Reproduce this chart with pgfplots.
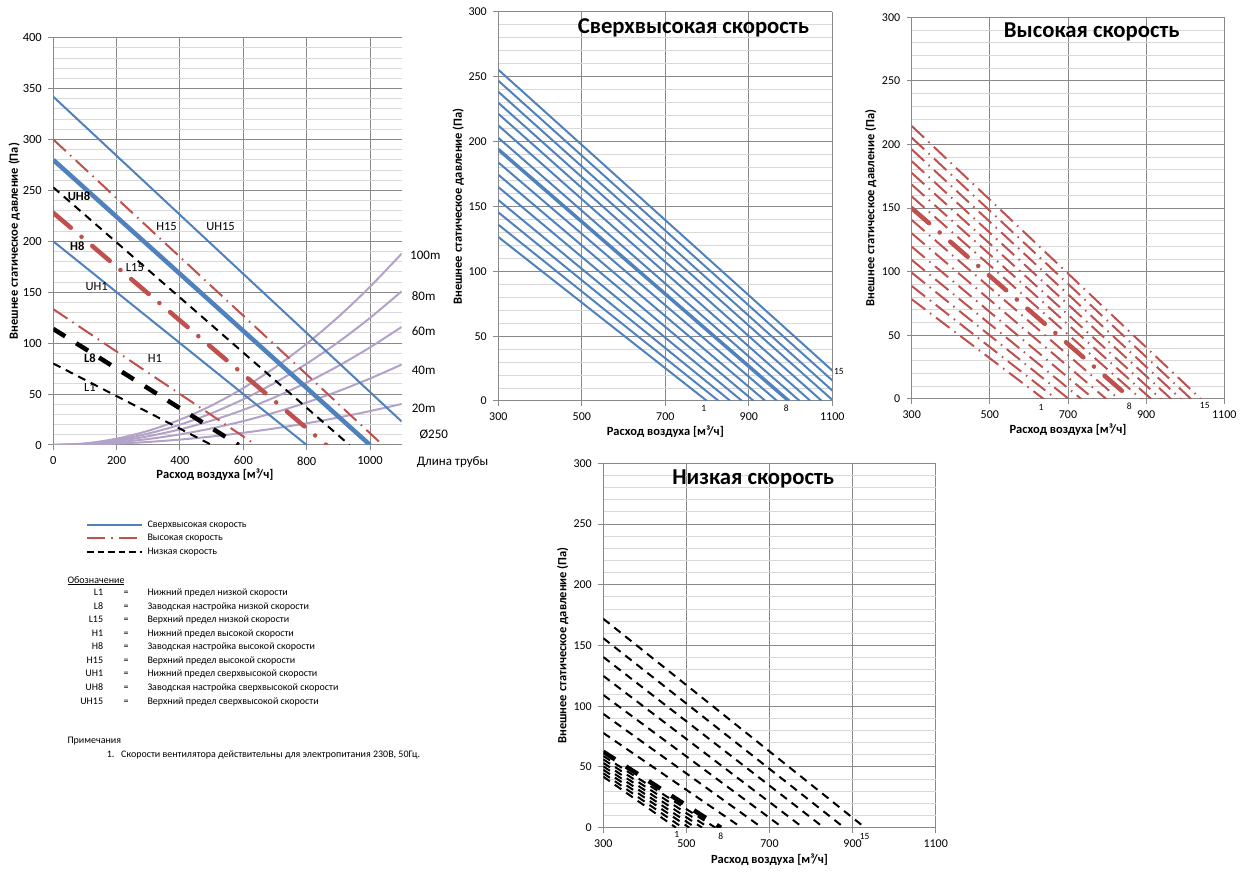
\documentclass[border=0pt]{standalone}
\usepackage{fontspec}
\setmainfont{Carlito}
\usepackage{pgfplots}
\pgfplotsset{compat=1.18}
\definecolor{xblue}{HTML}{4F81BD}
\definecolor{xred}{HTML}{C0504D}
\definecolor{xpurple}{HTML}{B3A2C7}
\definecolor{majgrid}{HTML}{898989}
\definecolor{mingrid}{HTML}{D9D9D9}
\newcommand{\fs}[1]{\fontsize{#1}{#1}\selectfont}
\tikzset{
 uhthin/.style={xblue, line width=2pt},
 uhthick/.style={xblue, line width=4.5pt},
 uhmid/.style={xblue, line width=3.5pt},
 hthin/.style={xred, line width=2pt, dash pattern=on 17pt off 6pt on 1.5pt off 6pt},
 hthick/.style={xred, line width=4.5pt, line cap=round, dash pattern=on 23pt off 14pt on 0.1pt off 14pt},
 lthin/.style={black, line width=2pt, dash pattern=on 8pt off 6pt},
 lthick/.style={black, line width=4.5pt, dash pattern=on 14pt off 13pt},
 duct/.style={xpurple, line width=2pt, smooth},
}
\pgfplotsset{
 xlbase/.style={
   scale only axis,
   axis x line*=bottom, axis y line*=left,
   axis line style={majgrid, line width=1pt, -},
   grid=both,
   major grid style={majgrid, line width=1pt},
   minor grid style={mingrid, line width=1pt},
   tick align=outside,
   major tick length=5pt, minor tick length=0pt,
   tick style={majgrid, line width=1pt},
   ymin=0, ytick distance=50, minor y tick num=4,
   /pgf/number format/assume math mode=true,
   /pgf/number format/1000 sep={},
   ticklabel style={font=\fs{12.5}, text=black},
   xticklabel style={yshift=-3pt},
   yticklabel style={xshift=-3pt},
   label style={font=\bfseries\fs{12.5}},
   clip mode=individual,
   every axis plot/.append style={no marks},
 },
 small/.style={xlbase, xmin=300, xmax=1100, xtick={300,500,700,900,1100}, ymax=300,
   ticklabel style={font=\fs{12}}},
}
\begin{document}
\begin{tikzpicture}[x=1pt,y=1pt]
\useasboundingbox (0,0) rectangle (1245,871);

% ---------------- main chart ----------------
\begin{axis}[xlbase, at={(53.3pt,426pt)}, anchor=south west, width=348.4pt, height=407.3pt,
  xmin=0, xmax=1100, xtick={0,200,400,600,800,1000}, ymax=400,
  xlabel={Расход воздуха [м³/ч]}, ylabel={Внешнее статическое давление (Па)},
  xlabel style={at={(axis description cs:0.464,-0.073)}, anchor=center},
  ylabel style={at={(axis description cs:-0.112,0.5)}, anchor=center}]
\addplot[duct] coordinates {(0,0) (100,1.55) (200,6.22) (300,13.98) (400,24.86) (500,38.84) (600,55.93) (700,76.13) (800,99.44) (900,125.85) (1000,155.37) (1100,188)};
\addplot[duct] coordinates {(0,0) (100,1.25) (200,4.99) (300,11.23) (400,19.97) (500,31.20) (600,44.93) (700,61.15) (800,79.87) (900,101.08) (1000,124.79) (1100,151)};
\addplot[duct] coordinates {(0,0) (100,0.96) (200,3.83) (300,8.63) (400,15.34) (500,23.97) (600,34.51) (700,46.98) (800,61.36) (900,77.65) (1000,95.87) (1100,116)};
\addplot[duct] coordinates {(0,0) (100,0.65) (200,2.61) (300,5.88) (400,10.45) (500,16.32) (600,23.50) (700,31.99) (800,41.79) (900,52.88) (1000,65.29) (1100,79)};
\addplot[duct] coordinates {(0,0) (100,0.33) (200,1.33) (300,3.00) (400,5.33) (500,8.33) (600,11.99) (700,16.32) (800,21.32) (900,26.98) (1000,33.31) (1100,40.3)};
\addplot[uhthin] coordinates {(0,342) (1100,23)};
\addplot[uhthick] coordinates {(0,280) (1000,0)};
\addplot[uhthin] coordinates {(0,200) (800,0)};
\addplot[hthin] coordinates {(0,300) (1040,0)};
\addplot[hthick] coordinates {(0,228) (862,0)};
\addplot[hthin] coordinates {(0,133.4) (640,0)};
\addplot[lthin] coordinates {(0,253) (935,0)};
\addplot[lthick] coordinates {(0,114) (585,0)};
\addplot[lthin] coordinates {(0,80) (500,0)};
\node[font=\bfseries\fs{12.5}] at (axis cs:81,244.5) {UH8};
\node[font=\fs{12.5}] at (axis cs:357.7,215) {H15};
\node[font=\fs{12.5}] at (axis cs:528,215) {UH15};
\node[font=\bfseries\fs{12.5}] at (axis cs:75.8,195.4) {H8};
\node[font=\fs{12.5}] at (axis cs:257.7,174) {L15};
\node[font=\fs{12.5}] at (axis cs:137,155.5) {UH1};
\node[font=\bfseries\fs{12.5}] at (axis cs:115.8,85) {L8};
\node[font=\fs{12.5}] at (axis cs:320.8,85) {H1};
\node[font=\fs{12.5}] at (axis cs:115.8,56.3) {L1};
\end{axis}

% ---------------- chart 2: ultra high ----------------
\begin{axis}[small, at={(498.3pt,470pt)}, anchor=south west, width=334pt, height=389pt,
  xlabel={Расход воздуха [м³/ч]}, ylabel={Внешнее статическое давление (Па)},
  xlabel style={at={(axis description cs:0.5,-0.08)}, anchor=center},
  ylabel style={at={(axis description cs:-0.12,0.5)}, anchor=center}]
\addplot[uhthin] coordinates {(300,126.5) (800,0)};
\addplot[uhthin] coordinates {(300,136) (828,0)};
\addplot[uhthin] coordinates {(300,145.5) (856,0)};
\addplot[uhthin] coordinates {(300,155) (884,0)};
\addplot[uhthin] coordinates {(300,165) (912,0)};
\addplot[uhthin] coordinates {(300,174.5) (940,0)};
\addplot[uhthin] coordinates {(300,184) (968,0)};
\addplot[uhmid] coordinates {(300,194) (996,0)};
\addplot[uhthin] coordinates {(300,203) (1022,0)};
\addplot[uhthin] coordinates {(300,212.5) (1048,0)};
\addplot[uhthin] coordinates {(300,221.5) (1075,0)};
\addplot[uhthin] coordinates {(300,230) (1103,0)};
\addplot[uhthin] coordinates {(300,238.5) (1128,0)};
\addplot[uhthin] coordinates {(300,247) (1155,0)};
\addplot[uhthin] coordinates {(300,255.5) (1181,0)};
\node[font=\bfseries\fs{22.7}] at (axis description cs:0.584,0.959) {Сверхвысокая скорость};
\node[font=\fs{9.5}] at (axis cs:792,-6) {1};
\node[font=\fs{9.5}] at (axis cs:990,-6) {8};
\node[font=\fs{9.5}] at (axis cs:1116,22.5) {15};
\end{axis}

% ---------------- chart 3: high ----------------
\begin{axis}[small, at={(911.7pt,472pt)}, anchor=south west, width=312.6pt, height=381.7pt,
  xlabel={Расход воздуха [м³/ч]}, ylabel={Внешнее статическое давление (Па)},
  xlabel style={at={(axis description cs:0.5,-0.079)}, anchor=center},
  ylabel style={at={(axis description cs:-0.131,0.5)}, anchor=center}]
\addplot[hthin] coordinates {(300,78.4) (638,0)};
\addplot[hthin] coordinates {(300,88.8) (670,0)};
\addplot[hthin] coordinates {(300,99.3) (702,0)};
\addplot[hthin] coordinates {(300,109.3) (734,0)};
\addplot[hthin] coordinates {(300,119.7) (766,0)};
\addplot[hthin] coordinates {(300,130.2) (798,0)};
\addplot[hthin] coordinates {(300,140.7) (830,0)};
\addplot[hthick] coordinates {(300,150) (862,0)};
\addplot[hthin] coordinates {(300,159.2) (887,0)};
\addplot[hthin] coordinates {(300,168.5) (913,0)};
\addplot[hthin] coordinates {(300,177.7) (938,0)};
\addplot[hthin] coordinates {(300,186.9) (964,0)};
\addplot[hthin] coordinates {(300,196.2) (989,0)};
\addplot[hthin] coordinates {(300,205.4) (1015,0)};
\addplot[hthin] coordinates {(300,214.6) (1040,0)};
\node[font=\bfseries\fs{22.7}] at (axis description cs:0.576,0.961) {Высокая скорость};
\node[font=\fs{9.5}] at (axis cs:631,-7) {1};
\node[font=\fs{9.5}] at (axis cs:857,-6) {8};
\node[font=\fs{9.5}] at (axis cs:1050,-5) {15};
\end{axis}

% ---------------- chart 4: low ----------------
\begin{axis}[small, at={(603.3pt,43.3pt)}, anchor=south west, width=332.4pt, height=364.4pt,
  xlabel={Расход воздуха [м³/ч]}, ylabel={Внешнее статическое давление (Па)},
  xlabel style={at={(axis description cs:0.5,-0.089)}, anchor=center},
  ylabel style={at={(axis description cs:-0.122,0.5)}, anchor=center}]
\addplot[lthin] coordinates {(300,42) (475,0)};
\addplot[lthin] coordinates {(300,44.8) (491,0)};
\addplot[lthin] coordinates {(300,47.7) (507,0)};
\addplot[lthin] coordinates {(300,50.5) (522,0)};
\addplot[lthin] coordinates {(300,53.3) (538,0)};
\addplot[lthin] coordinates {(300,56.2) (554,0)};
\addplot[lthin] coordinates {(300,59) (570,0)};
\addplot[lthick] coordinates {(300,62.5) (583,0)};
\addplot[lthin] coordinates {(300,78) (633,0)};
\addplot[lthin] coordinates {(300,93.7) (682,0)};
\addplot[lthin] coordinates {(300,109.3) (732,0)};
\addplot[lthin] coordinates {(300,125) (781,0)};
\addplot[lthin] coordinates {(300,140.5) (831,0)};
\addplot[lthin] coordinates {(300,156) (880,0)};
\addplot[lthin] coordinates {(300,172) (930,0)};
\node[font=\bfseries\fs{22.7}] at (axis description cs:0.451,0.956) {Низкая скорость};
\node[font=\fs{9.5}] at (axis cs:477,-5.4) {1};
\node[font=\fs{9.5}] at (axis cs:583,-6.8) {8};
\node[font=\fs{9.5}] at (axis cs:929,-7) {15};
\end{axis}

% ---------------- right labels of main chart ----------------
\node[font=\fs{13}, anchor=mid west] at (406.7,613.7) {100m};
\node[font=\fs{13}, anchor=mid west] at (408.3,573.3) {80m};
\node[font=\fs{13}, anchor=mid west] at (408.3,537.7) {60m};
\node[font=\fs{13}, anchor=mid west] at (408.3,498.7) {40m};
\node[font=\fs{13}, anchor=mid west] at (408.3,461) {20m};
\node[font=\fs{13}, anchor=mid west] at (416,435.3) {Ø250};
\node[font=\fs{13}, anchor=mid west] at (413.3,407.7) {Длина трубы};

% ---------------- legend and notes ----------------
\draw[xblue, line width=1.8pt] (87.3,346) -- (141.7,346);
\draw[xred, line width=1.8pt, dash pattern=on 18pt off 6pt on 1.5pt off 6pt] (87.3,332.7) -- (141.7,332.7);
\draw[black, line width=1.8pt, dash pattern=on 6.5pt off 4pt] (87.3,319.3) -- (141.7,319.3);
\begin{scope}[every node/.style={font=\fs{10}, inner sep=0pt}]
\node[anchor=mid west] at (147.3,346) {Сверхвысокая скорость};
\node[anchor=mid west] at (147.3,332.7) {Высокая скорость};
\node[anchor=mid west] at (147.3,319.3) {Низкая скорость};
\node[anchor=mid west] at (67.3,290.3) {\underline{Обозначение}};
\foreach \lab/\desc/\yy in {L1/Нижний предел низкой скорости/278.3,
  L8/Заводская настройка низкой скорости/264.3,
  L15/Верхний предел низкой скорости/251,
  H1/Нижний предел высокой скорости/237,
  H8/Заводская настройка высокой скорости/223.7,
  H15/Верхний предел высокой скорости/210.3,
  UH1/Нижний предел сверхвысокой скорости/197,
  UH8/Заводская настройка сверхвысокой скорости/183.3,
  UH15/Верхний предел сверхвысокой скорости/169.3}{
  \node[anchor=mid east] at (103.3,\yy) {\lab};
  \node[anchor=mid] at (126,\yy) {=};
  \node[anchor=mid west] at (147.3,\yy) {\desc};
}
\node[anchor=mid west] at (67.3,130.3) {Примечания};
\node[anchor=mid west] at (106.7,116) {1.};
\node[anchor=mid west] at (121,116) {Скорости вентилятора действительны для электропитания 230В, 50Гц.};
\end{scope}
\end{tikzpicture}
\end{document}
